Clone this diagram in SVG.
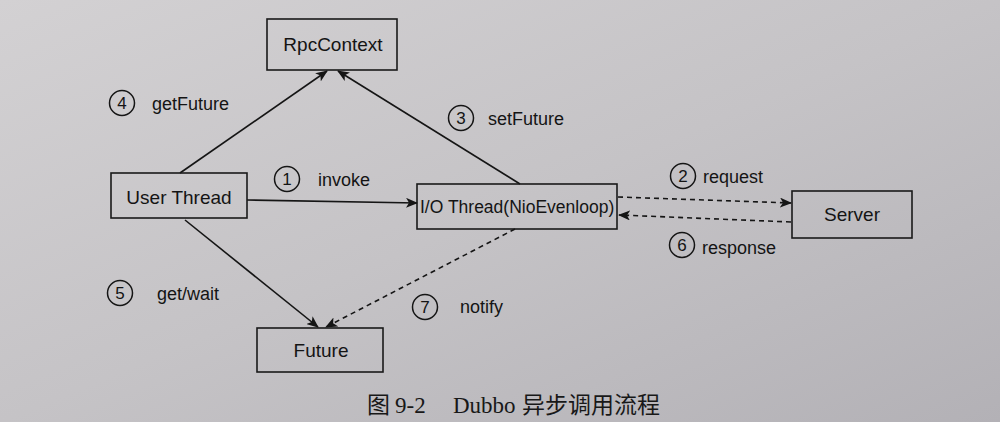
<svg xmlns="http://www.w3.org/2000/svg" width="1000" height="422" viewBox="0 0 1000 422">
<defs>
<linearGradient id="bg" x1="0" y1="0" x2="1" y2="1">
<stop offset="0" stop-color="#d3d1d3"/>
<stop offset="0.5" stop-color="#c5c3c6"/>
<stop offset="1" stop-color="#b3b1b6"/>
</linearGradient>
<marker id="ah" viewBox="0 0 12 10" refX="11" refY="5" markerWidth="12" markerHeight="10" markerUnits="userSpaceOnUse" orient="auto">
<path d="M0,0 L12,5 L0,10 L3,5 z" fill="#151515"/>
</marker>
<style>
.box{fill:none;stroke:#1a1a1a;stroke-width:1.6}
.t{font-family:"Liberation Sans",Arial,sans-serif;font-size:19px;fill:#141414}
.lbl{font-family:"Liberation Sans",Arial,sans-serif;font-size:18px;fill:#141414}
.num{font-family:"Liberation Sans",Arial,sans-serif;font-size:17px;fill:#141414;text-anchor:middle}
.circ{fill:none;stroke:#151515;stroke-width:1.5}
.ln{fill:none;stroke:#151515;stroke-width:1.6;marker-end:url(#ah)}
.dl{fill:none;stroke:#151515;stroke-width:1.6;stroke-dasharray:5 4;marker-end:url(#ah)}
.cap{font-family:"Liberation Serif","Noto Sans CJK SC",serif;font-size:23px;fill:#181818}
</style>
</defs>
<rect x="0" y="0" width="1000" height="422" fill="url(#bg)"/>

<g id="connectors">
<line class="ln" x1="180" y1="173" x2="327" y2="71"/>
<line class="ln" x1="520" y1="184" x2="338" y2="71"/>
<line class="ln" x1="247" y1="200" x2="417" y2="203"/>
<line class="dl" x1="618" y1="197" x2="791" y2="203"/>
<line class="dl" x1="791" y1="222" x2="619" y2="215"/>
<line class="ln" x1="185" y1="220" x2="318" y2="327"/>
<line class="dl" x1="515" y1="229" x2="326" y2="327"/>
</g>

<g id="rpccontext">
<rect class="box" x="267" y="19" width="130" height="51"/>
<text class="t" x="333" y="51" text-anchor="middle">RpcContext</text>
</g>
<g id="userthread">
<rect class="box" x="111" y="173" width="136" height="45"/>
<text class="t" x="179" y="204" text-anchor="middle">User Thread</text>
</g>
<g id="iothread">
<rect class="box" x="417" y="184" width="200" height="45"/>
<text class="t" x="420" y="213" style="font-size:17.5px">I/O Thread(NioEvenloop)</text>
</g>
<g id="server">
<rect class="box" x="792" y="191" width="120" height="47"/>
<text class="t" x="852" y="221" text-anchor="middle">Server</text>
</g>
<g id="future">
<rect class="box" x="257" y="328" width="126" height="44"/>
<text class="t" x="321" y="357" text-anchor="middle">Future</text>
</g>

<g id="labels">
<circle class="circ" cx="122" cy="103" r="12.5"/><text class="num" x="122" y="109">4</text>
<text class="lbl" x="152" y="110">getFuture</text>
<circle class="circ" cx="461" cy="118" r="12.5"/><text class="num" x="461" y="124">3</text>
<text class="lbl" x="488" y="125">setFuture</text>
<circle class="circ" cx="287" cy="179" r="12.5"/><text class="num" x="287" y="185">1</text>
<text class="lbl" x="318" y="186">invoke</text>
<circle class="circ" cx="683" cy="176" r="12.5"/><text class="num" x="683" y="182">2</text>
<text class="lbl" x="703" y="183">request</text>
<circle class="circ" cx="682" cy="245" r="12.5"/><text class="num" x="682" y="251">6</text>
<text class="lbl" x="702" y="254">response</text>
<circle class="circ" cx="120" cy="293" r="12.5"/><text class="num" x="120" y="299">5</text>
<text class="lbl" x="157" y="300">get/wait</text>
<circle class="circ" cx="425" cy="307" r="12.5"/><text class="num" x="425" y="313">7</text>
<text class="lbl" x="460" y="313">notify</text>
</g>

<text class="cap" y="413"><tspan x="367">图</tspan><tspan x="395">9-2</tspan><tspan x="453">Dubbo</tspan><tspan x="522">异步调用流程</tspan></text>
</svg>
